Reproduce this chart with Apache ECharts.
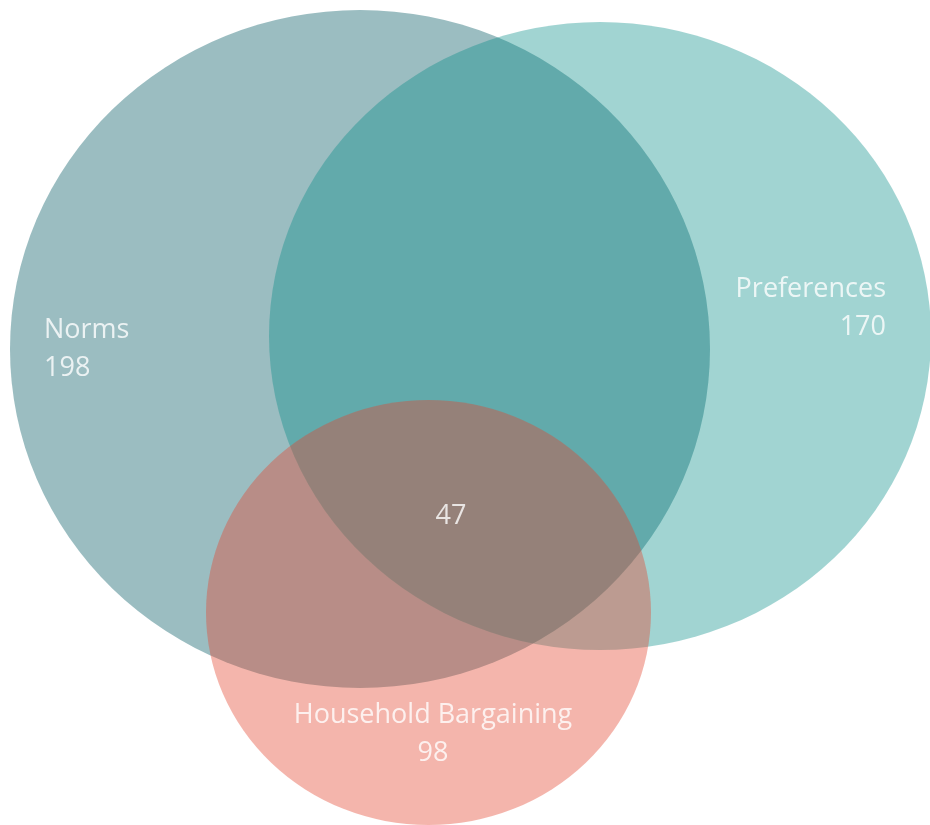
<!DOCTYPE html>
<html>
<head>
<meta charset="utf-8">
<style>
  html, body { margin: 0; padding: 0; background: #ffffff; }
  #chart { width: 930px; height: 825px; }
</style>
<script src="https://cdn.jsdelivr.net/npm/echarts@6/dist/echarts.min.js"></script>
</head>
<body>
<div id="chart"></div>
<script>
// Sets and their counts
const setNames = ['Norms', 'Preferences', 'Household Bargaining'];
const setCounts = [198, 170, 98];
const sharedLabel = '47';

// Ellipse layout per set: [centerX, centerY, radiusX, radiusY] in plot units
const setShapes = [
  [360, 349, 350, 339],
  [600, 336, 331, 314],
  [428.5, 612.5, 222.5, 212.5]
];
const setColors = [
  'rgba(5, 90, 100, 0.4)',
  'rgba(1, 139, 133, 0.37)',
  'rgba(228, 70, 48, 0.4)'
];

// Label anchors: [x, y] in plot units with alignment
const labelAnchors = [
  { at: [44, 349], align: 'left' },
  { at: [886, 308], align: 'right' },
  { at: [433, 734], align: 'center' }
];
const sharedAnchor = [451, 516];

const chart = echarts.init(document.getElementById('chart'), null, { renderer: 'canvas' });

const labelData = setNames.map((name, i) => ({
  value: [labelAnchors[i].at[0], labelAnchors[i].at[1]],
  label: { formatter: name + '\n' + setCounts[i], align: labelAnchors[i].align }
}));
labelData.push({
  value: sharedAnchor,
  label: { formatter: sharedLabel, align: 'center' }
});

chart.setOption({
  animation: false,
  grid: { left: 0, right: 0, top: 0, bottom: 0 },
  xAxis: { type: 'value', min: 0, max: 930, show: false },
  yAxis: { type: 'value', min: 0, max: 825, inverse: true, show: false },
  series: [
    {
      type: 'custom',
      silent: true,
      clip: false,
      data: setShapes,
      renderItem: function (params, api) {
        const c = api.coord([api.value(0), api.value(1)]);
        const s = api.size([api.value(2), api.value(3)]);
        return {
          type: 'circle',
          x: c[0],
          y: c[1],
          scaleX: 1,
          scaleY: s[1] / s[0],
          shape: { cx: 0, cy: 0, r: s[0] },
          style: { fill: setColors[params.dataIndex] }
        };
      }
    },
    {
      type: 'scatter',
      silent: true,
      symbolSize: 0,
      z: 5,
      data: labelData,
      label: {
        show: true,
        position: [0, 0],
        verticalAlign: 'middle',
        color: '#ffffff',
        fontFamily: 'Open Sans',
        fontSize: 27,
        lineHeight: 38
      }
    }
  ]
});
</script>
</body>
</html>
